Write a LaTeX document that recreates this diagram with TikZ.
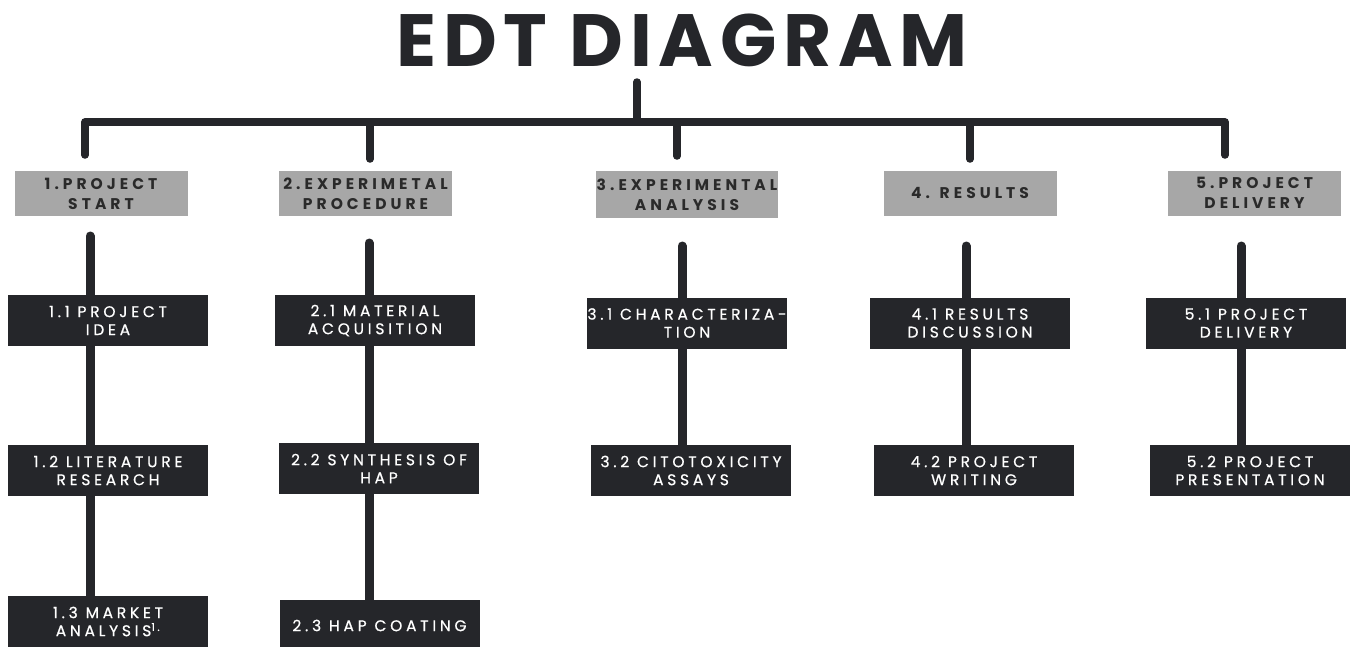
\documentclass[tikz,border=0pt]{standalone}
\usepackage{fontspec}
\newfontfamily\titlefont[LetterSpace=9]{Poppins}
\newfontfamily\phasefont[LetterSpace=26]{Poppins}
\newfontfamily\taskfont[LetterSpace=24,FakeBold=0.6]{Poppins}
\definecolor{edtdark}{HTML}{25262A}
\definecolor{edtgray}{HTML}{A7A7A7}
\definecolor{edttext}{HTML}{2A2A2A}

\tikzset{
  phase/.style={fill=edtgray, text=edttext, inner sep=0pt, align=center,
    minimum width=173, minimum height=45,
    font=\phasefont\bfseries\fontsize{15.5}{20}\selectfont},
  task/.style={fill=edtdark, text=white, inner sep=0pt, align=center,
    minimum width=200, minimum height=51,
    font=\taskfont\fontsize{15.5}{18}\selectfont},
  bar/.style={edtdark, line width=7.5, line cap=round, line join=round},
  stem/.style={edtdark, line width=9, line cap=round}
}

\begin{document}
\begin{tikzpicture}[x=1pt,y=-1pt]
\useasboundingbox (0,0) rectangle (1354,646);

% title
\node[anchor=base, text=edtdark, font=\titlefont\bfseries\fontsize{74}{74}\selectfont] (title) at (682,66) {EDT DIAGRAM};

% phases
\node[phase] (g1) at (101,193.5) {1.PROJECT\\START};
\node[phase] (g2) at (365.5,193.5) {2.EXPERIMETAL\\PROCEDURE};
\node[phase, minimum width=182, minimum height=47] (g3) at (687,194.5) {3.EXPERIMENTAL\\ANALYSIS};
\node[phase] (g4) at (970,193) {4. RESULTS};
\node[phase] (g5) at (1254.5,193) {5.PROJECT\\DELIVERY};

% tasks
\node[task] (b11) at (108,320.5) {1.1 PROJECT\\IDEA};
\node[task] (b12) at (108,470.5) {1.2 LITERATURE\\RESEARCH};
\node[task] (b13) at (108,621.5) {1.3 MARKET\\ANALYSIS\textsuperscript{1.}};
\node[task] (b21) at (375,320.5) {2.1 MATERIAL\\ACQUISITION};
\node[task] (b22) at (379,468.5) {2.2 SYNTHESIS OF\\HAP};
\node[task] (b23) at (379.5,625.5) {2.3 HAP COATING};
\node[task] (b31) at (687,323) {3.1 CHARACTERIZA-\\TION};
\node[task] (b32) at (691,470.5) {3.2 CITOTOXICITY\\ASSAYS};
\node[task] (b41) at (970,323) {4.1 RESULTS\\DISCUSSION};
\node[task] (b42) at (974,470.5) {4.2 PROJECT\\WRITING};
\node[task] (b51) at (1246,323) {5.1 PROJECT\\DELIVERY};
\node[task] (b52) at (1250,470.5) {5.2 PROJECT\\PRESENTATION};

% tree bar
\coordinate (top) at (637,82);
\coordinate (barL) at (85,122);
\coordinate (barR) at (1225,122);
\coordinate (d1) at (85,155);
\coordinate (d2) at (370,159);
\coordinate (d3) at (677,156);
\coordinate (d4) at (970,159);
\coordinate (d5) at (1225,155);
\draw[bar] (top) -- (top |- barL);
\draw[bar] (d1) -- (barL) -- (barR) -- (d5);
\draw[bar] (d2 |- barL) -- (d2);
\draw[bar] (d3 |- barL) -- (d3);
\draw[bar] (d4 |- barL) -- (d4);

% columns
\coordinate (t1) at (90,236);
\coordinate (t2) at (369,243);
\coordinate (t3) at (682,246);
\coordinate (t4) at (966,246);
\coordinate (t5) at (1241,246);
\draw[stem] (t1) -- (t1 |- b11.north);
\draw[stem] (t1 |- b11.south) -- (t1 |- b12.north);
\draw[stem] (t1 |- b12.south) -- (t1 |- b13.north);
\draw[stem] (t2) -- (t2 |- b21.north);
\draw[stem] (t2 |- b21.south) -- (t2 |- b22.north);
\draw[stem] (t2 |- b22.south) -- (t2 |- b23.north);
\draw[stem] (t3) -- (t3 |- b31.north);
\draw[stem] (t3 |- b31.south) -- (t3 |- b32.north);
\draw[stem] (t4) -- (t4 |- b41.north);
\draw[stem] (t4 |- b41.south) -- (t4 |- b42.north);
\draw[stem] (t5) -- (t5 |- b51.north);
\draw[stem] (t5 |- b51.south) -- (t5 |- b52.north);
\end{tikzpicture}
\end{document}
